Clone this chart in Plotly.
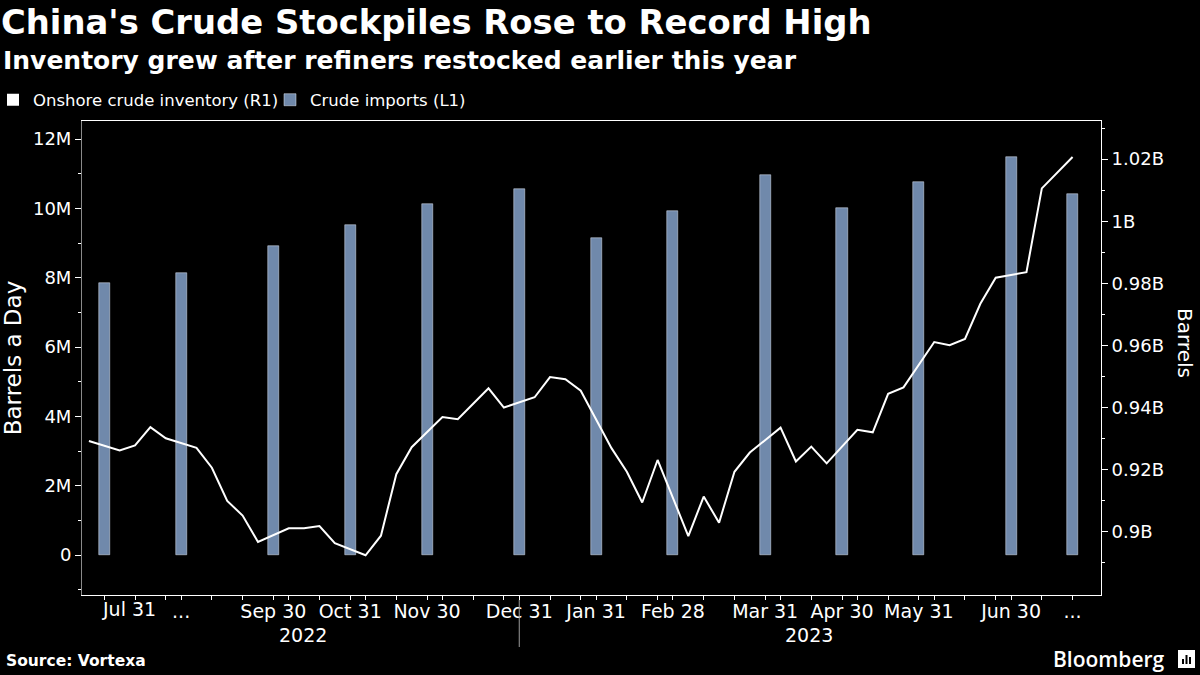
import plotly.graph_objects as go

# weekly onshore crude inventory in billions of barrels (right axis)
week_dates = [
    "2022-07-28", "2022-08-04", "2022-08-11", "2022-08-18", "2022-08-25",
    "2022-09-01", "2022-09-08", "2022-09-15", "2022-09-22", "2022-09-29",
    "2022-10-06", "2022-10-13", "2022-10-20", "2022-10-27",
    "2022-11-03", "2022-11-10", "2022-11-17", "2022-11-24",
    "2022-12-01", "2022-12-08", "2022-12-15", "2022-12-22", "2022-12-29",
    "2023-01-05", "2023-01-12", "2023-01-19", "2023-01-26",
    "2023-02-02", "2023-02-09", "2023-02-16", "2023-02-23",
    "2023-03-02", "2023-03-09", "2023-03-16", "2023-03-23", "2023-03-30",
    "2023-04-06", "2023-04-13", "2023-04-20", "2023-04-27",
    "2023-05-04", "2023-05-11", "2023-05-18", "2023-05-25",
    "2023-06-01", "2023-06-08", "2023-06-15", "2023-06-22", "2023-06-29",
    "2023-07-06", "2023-07-13", "2023-07-20", "2023-07-27",
]
inventory_b = [
    0.9292, 0.9262, 0.9278, 0.9337, 0.9301,
    0.9270, 0.9206, 0.9099, 0.9052, 0.8967,
    0.9011, 0.9011, 0.9018, 0.8963,
    0.8924, 0.8987, 0.9185, 0.9272,
    0.9369, 0.9362, 0.9412, 0.9462, 0.9400,
    0.9433, 0.9498, 0.9491, 0.9454,
    0.9269, 0.9193, 0.9094, 0.9231,
    0.8986, 0.9113, 0.9029, 0.9193, 0.9255,
    0.9335, 0.9226, 0.9274, 0.9220,
    0.9328, 0.9320, 0.9444, 0.9465,
    0.9611, 0.9601, 0.9621, 0.9734, 0.9818,
    0.9836, 1.0106, 1.0158, 1.0207,
]

# monthly crude imports in millions of barrels a day (left axis)
month_dates = [
    "2022-07-31", "2022-08-31", "2022-09-30", "2022-10-31", "2022-11-30",
    "2022-12-31", "2023-01-31", "2023-02-28", "2023-03-31", "2023-04-30",
    "2023-05-31", "2023-06-30", "2023-07-27",
]
imports_m = [7.84, 8.13, 8.91, 9.52, 10.12, 10.56, 9.14, 9.92, 10.96, 10.01,
             10.76, 11.48, 10.41]
month_labels = ["", "...", "Sep 30", "Oct 31", "Nov 30", "Dec 31", "Jan 31",
                "Feb 28", "Mar 31", "Apr 30", "May 31", "Jun 30", "..."]

left_ticks = [0, 2e6, 4e6, 6e6, 8e6, 10e6, 12e6]
left_labels = ["0", "2M", "4M", "6M", "8M", "10M", "12M"]
left_minor = [-1e6, 1e6, 3e6, 5e6, 7e6, 9e6, 11e6]
right_ticks = [0.90e9, 0.92e9, 0.94e9, 0.96e9, 0.98e9, 1.00e9, 1.02e9]
right_labels = ["0.9B", "0.92B", "0.94B", "0.96B", "0.98B", "1B", "1.02B"]
right_minor = [0.89e9, 0.91e9, 0.93e9, 0.95e9, 0.97e9, 0.99e9, 1.01e9, 1.03e9]

BAR = "#7089ab"
FONT = "DejaVu Sans"

categories = sorted(set(week_dates) | set(month_dates))

# plot area in pixels: x 82..1101, y 121..595
L, R, T, B = 82, 1101, 121, 595


def px(x):
    return (x - L) / (R - L)


def py(y):
    return (B - y) / (B - T)


fig = go.Figure()

fig.add_trace(go.Bar(
    x=month_dates, y=[v * 1e6 for v in imports_m],
    name="Crude imports (L1)", marker_color=BAR, width=0.72,
    yaxis="y", legendrank=2,
))
fig.add_trace(go.Scatter(
    x=week_dates, y=[v * 1e9 for v in inventory_b],
    mode="lines", line=dict(color="white", width=2),
    yaxis="y2", showlegend=False,
))
# legend entry with a square swatch, like the original
fig.add_trace(go.Scatter(
    x=[None], y=[None], mode="markers", name="Onshore crude inventory (R1)",
    marker=dict(symbol="square", size=12, color="white"),
    yaxis="y2", legendrank=1,
))

# x ticks: month ends labelled, every other week unlabelled
tick_vals = list(month_dates)
tick_text = list(month_labels)
for d in week_dates[2::2]:
    if d not in tick_vals:
        tick_vals.append(d)
        tick_text.append("")

fig.update_layout(
    width=1200, height=675,
    margin=dict(l=L, r=1200 - R, t=T, b=675 - B, autoexpand=False),
    plot_bgcolor="black", paper_bgcolor="black",
    font=dict(family=FONT, color="white", size=18),
    bargap=0,
    title=dict(
        text="China's Crude Stockpiles Rose to Record High",
        font=dict(family=FONT, size=33.8, weight="bold", color="white"),
        x=1 / 1200, xref="container", xanchor="left",
        y=1 - 10 / 675, yref="container", yanchor="top",
    ),
    legend=dict(
        orientation="h", x=px(-7), xanchor="left", y=py(100), yanchor="middle",
        font=dict(family=FONT, size=16.5, color="white"),
        bgcolor="rgba(0,0,0,0)", itemwidth=30, tracegroupgap=0,
        entrywidth=232, entrywidthmode="pixels",
    ),
    xaxis=dict(
        type="category", categoryorder="array", categoryarray=categories,
        range=[-0.45, len(categories) + 0.85],
        tickmode="array", tickvals=tick_vals, ticktext=tick_text,
        ticks="outside", ticklen=4, tickcolor="white",
        tickfont=dict(size=19), tickangle=0, ticklabelstandoff=-5,
        showline=True, linecolor="white", linewidth=1, mirror=True,
        showgrid=False, zeroline=False,
    ),
    yaxis=dict(
        range=[-1.15e6, 12.52e6],
        tickmode="array", tickvals=left_ticks, ticktext=left_labels,
        ticks="outside", ticklen=6, tickcolor="white",
        minor=dict(tickmode="array", tickvals=left_minor, ticks="outside",
                   ticklen=3, tickcolor="white"),
        showline=True, linecolor="#8a8a8a", linewidth=1,
        showgrid=False, zeroline=False,
        title=dict(text="Barrels a Day", font=dict(size=23), standoff=8),
    ),
    yaxis2=dict(
        overlaying="y", side="right",
        range=[0.8796e9, 1.0323e9],
        tickmode="array", tickvals=right_ticks, ticktext=right_labels,
        ticks="outside", ticklen=6, tickcolor="white",
        minor=dict(tickmode="array", tickvals=right_minor, ticks="outside",
                   ticklen=3, tickcolor="white"),
        showline=True, linecolor="white", linewidth=1,
        showgrid=False, zeroline=False,
    ),
)

ann = dict(xref="paper", yref="paper", showarrow=False, font=dict(family=FONT, color="white"))

fig.add_annotation(ann, text="Inventory grew after refiners restocked earlier this year",
                   x=px(1), y=py(44), xanchor="left", yanchor="top",
                   font=dict(family=FONT, size=25, weight="bold", color="white"))

# right axis title sits a little above the middle in the original
fig.add_annotation(ann, text="Barrels", x=px(1185), y=py(343), textangle=90,
                   xanchor="center", yanchor="middle",
                   font=dict(family=FONT, size=20, color="white"))

# first month label is nudged right of its bar, as in the original
fig.add_annotation(ann, text="Jul 31", xref="x",
                   x=categories.index(month_dates[0]) + 1.6, y=py(609),
                   xanchor="center", yanchor="middle", font=dict(family=FONT, size=19, color="white"))

fig.add_annotation(ann, text="2022", x=px(303), y=py(635), xanchor="center", yanchor="middle",
                   font=dict(family=FONT, size=19, color="white"))
fig.add_annotation(ann, text="2023", x=px(809), y=py(635), xanchor="center", yanchor="middle",
                   font=dict(family=FONT, size=19, color="white"))
fig.add_shape(type="line", xref="x", yref="paper",
              x0=categories.index("2022-12-31"), x1=categories.index("2022-12-31"),
              y0=py(600), y1=py(647), line=dict(color="#9a9a9a", width=1))

fig.add_annotation(ann, text="Source: Vortexa", x=px(4), y=py(661), xanchor="left", yanchor="middle",
                   font=dict(family=FONT, size=15.5, weight="bold", color="white"))

fig.add_annotation(ann, text="Bloomberg", x=px(1167), y=py(659), xanchor="right", yanchor="middle",
                   font=dict(family="Open Sans", size=21, weight=600, color="white"))
fig.add_shape(type="rect", xref="paper", yref="paper",
              x0=px(1178), x1=px(1195), y0=py(668), y1=py(650),
              fillcolor="white", line=dict(width=0))
for bx, top in [(1183, 659), (1186.5, 655), (1190, 657)]:
    fig.add_shape(type="rect", xref="paper", yref="paper",
                  x0=px(bx - 1), x1=px(bx + 1), y0=py(664), y1=py(top),
                  fillcolor="black", line=dict(width=0))

# the page body has a default margin; drop it so the figure fills the window
fig.write_html("out.html", config={"displayModeBar": False},
               post_script="document.body.style.margin='0';")
